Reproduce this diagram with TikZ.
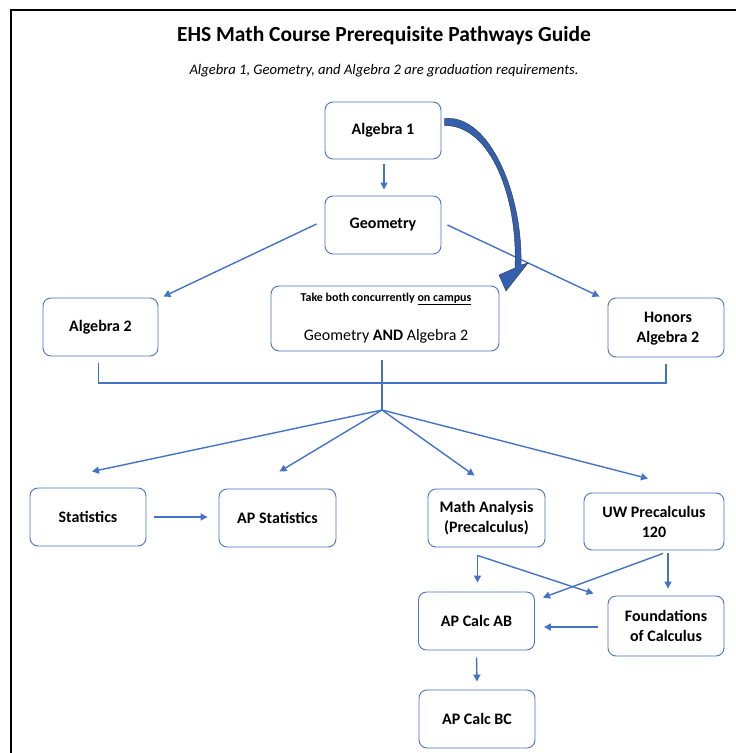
\documentclass[tikz,border=0pt]{standalone}
\usepackage{fontspec}
\setmainfont{Carlito}
\usetikzlibrary{arrows.meta,calc}
\definecolor{boxblue}{HTML}{4A72C0}
\definecolor{arrblue}{HTML}{4472C4}
\definecolor{bigblue}{HTML}{3560B0}
\begin{document}
\begin{tikzpicture}[x=1pt,y=-1pt,
  course/.style={draw=boxblue,line width=0.9pt,rounded corners=8pt,align=center,
    font=\fontsize{16}{20}\selectfont\bfseries,inner sep=0pt},
  conn/.style={draw=arrblue,line width=1.4pt},
  arr/.style={conn,-{Triangle[length=7pt,width=7pt]}}]
\useasboundingbox (0,0) rectangle (736,753);
\draw[line width=1.6pt] (11,753) -- (11,10) -- (736,10);
\node (title) at (384,36) {\fontsize{21.5}{25}\selectfont\bfseries EHS Math Course Prerequisite Pathways Guide};
\node (sub) at (384,71) {\fontsize{14.6}{17}\selectfont\itshape Algebra 1, Geometry, and Algebra 2 are graduation requirements.};

\node[course,minimum width=116pt,minimum height=57pt] (alg1) at (383,130.5) {Algebra 1};
\node[course,minimum width=116pt,minimum height=58pt] (geo) at (383,225) {Geometry};
\node[course,minimum width=115pt,minimum height=58pt] (alg2) at (100.5,327) {Algebra 2};
\node[course,minimum width=228pt,minimum height=65pt] (conc) at (385,318.5) {};
\node (conctop) at (386,299) {\fontsize{12}{14}\selectfont\bfseries Take both concurrently \underline{on campus}};
\node (concbot) at (386,336) {\fontsize{16}{19}\selectfont Geometry \textbf{AND} Algebra 2};
\node[course,minimum width=116pt,minimum height=59pt] (hon) at (666,327.5) {};
\node (honlbl) at (668,328) {\fontsize{16}{20}\selectfont\bfseries\begin{tabular}{@{}c@{}}Honors\\Algebra 2\end{tabular}};

\node[course,minimum width=116pt,minimum height=58pt] (stat) at (88,517) {Statistics};
\node[course,minimum width=117pt,minimum height=58pt] (apstat) at (277.5,518) {AP Statistics};
\node[course,minimum width=117pt,minimum height=58pt] (ma) at (486.5,518) {Math Analysis\\(Precalculus)};
\node[course,minimum width=140pt,minimum height=57pt] (uw) at (654,521.5) {UW Precalculus\\120};
\node[course,minimum width=116pt,minimum height=58pt] (ab) at (476.5,621) {AP Calc AB};
\node[course,minimum width=116pt,minimum height=60pt] (found) at (666,626) {Foundations\\of Calculus};
\node[course,minimum width=116pt,minimum height=58pt] (bc) at (477,719) {AP Calc BC};

% top arrows
\draw[arr] ($(alg1.south)+(1,5)$) -- ($(geo.north)+(1,-6)$);
\draw[arr] ($(geo.west)+(-8,-1)$) -- ($(alg2.north east)+(5,-1)$);
\draw[arr] ($(geo.east)+(6,0)$) -- ($(hon.north west)+(-8,-1)$);

% curved block arrow
\fill[bigblue,draw=black!80,line width=0.4pt]
  ($(alg1.east)+(3,-12)$) .. controls (490,114) and (523,195) .. (521,265)
  -- (528,263) -- (506,291) -- (499,275) -- (515,268)
  .. controls (518,198) and (491,125) .. ($(alg1.east)+(3,-5)$) -- cycle;

% bracket
\coordinate (hub) at (382,410);
\draw[conn] ($(alg2.south)+(-2,7)$) |- (382,383) -| ($(hon.south)+(0,7)$);
\draw[conn] ($(conc.south)+(-3,9)$) -- (hub);

\draw[arr] (hub) -- ($(stat.north)+(4,-16)$);
\draw[arr] (hub) -- ($(apstat.north)+(2,-17)$);
\draw[arr] (hub) -- ($(ma.north)+(-12,-13)$);
\draw[arr] (hub) -- ($(uw.north)+(-6,-14)$);

\draw[arr] ($(stat.east)+(8,0)$) -- ($(apstat.west)+(-11,-1)$);

% lower connections
\coordinate (maout) at ($(ma.south)+(-9,8)$);
\draw[arr] (maout) -- ($(ab.north)+(1,-9)$);
\draw[arr] (maout) -- ($(found.north west)+(-14,-2)$);
\draw[arr] ($(uw.south)+(9,3)$) -- ($(ab.north east)+(8,6)$);
\draw[arr] ($(uw.south)+(14,3)$) -- ($(found.north)+(2,-7)$);
\draw[arr] ($(found.west)+(-10,1)$) -- ($(ab.east)+(9,6)$);
\draw[arr] ($(ab.south)+(0,7)$) -- ($(bc.north)+(0,-8)$);
\end{tikzpicture}
\end{document}
